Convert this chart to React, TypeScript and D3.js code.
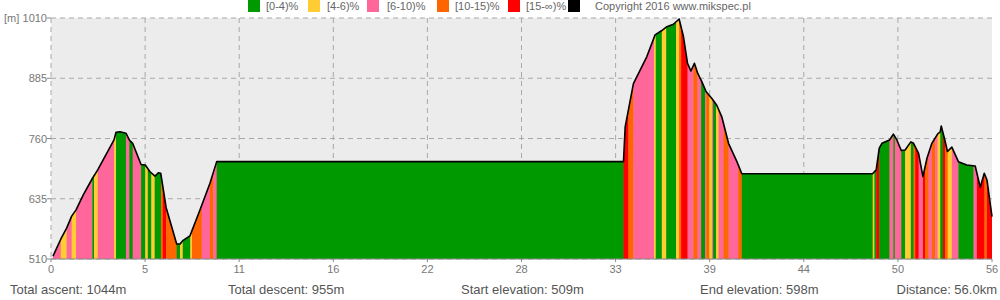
import React from "react";
import * as d3 from "d3";

// Elevation profile (km, m)
const KM = [0.12, 0.58, 0.93, 1.23, 1.49, 1.92, 2.46, 2.78, 3.75, 3.87, 4.11, 4.46, 4.66, 4.86, 5.36, 5.61, 5.89, 6.19, 6.39, 6.53, 6.85, 7.48, 7.68, 7.84, 8.27, 8.87, 9.46, 9.86,
  34.07, 34.17, 34.36, 34.66, 35.06, 35.46, 35.95, 36.35, 36.65, 37.04, 37.38, 37.64, 37.88, 38.08, 38.29, 38.49, 38.73, 38.99, 39.33, 39.62, 39.92, 40.32, 40.82, 41.11,
  48.89, 49.11, 49.29, 49.45, 49.9, 50.13, 50.34, 50.6, 50.83, 51.17, 51.33, 51.63, 51.89, 52.13, 52.42, 52.76, 52.92, 52.98, 53.17, 53.35, 53.61, 54.0, 54.5, 55.0, 55.3, 55.54, 55.7, 56.0];
const ELEV = [516, 551, 574, 599, 612, 643, 677, 695, 757, 773, 774, 771, 757, 750, 706, 705, 691, 682, 689, 688, 617, 541, 541, 548, 558, 612, 667, 712,
  712, 784, 819, 874, 902, 930, 975, 984, 992, 997, 1008, 971, 916, 900, 916, 895, 878, 857, 843, 829, 805, 750, 712, 687,
  687, 695, 740, 750, 757, 769, 757, 735, 736, 753, 750, 729, 681, 719, 750, 769, 774, 786, 760, 733, 742, 712, 705, 703, 659, 688, 674, 598];

// Gradient class segments: start km and class index (0..4)
const SEG_START = [0.12, 0.58, 0.93, 1.23, 1.49, 2.46, 2.56, 2.78, 3.75, 3.87, 4.46, 4.66, 4.86, 5.36, 5.61, 5.76, 5.97, 6.17, 6.55, 6.65, 6.85, 7.48, 7.68, 7.84, 8.29, 8.39, 8.97, 9.46, 9.66, 9.86,
  34.07, 34.36, 34.66, 35.89, 35.99, 36.35, 36.61, 37.2, 37.38, 37.5, 37.88, 38.23, 38.47, 38.69, 38.93, 38.99, 39.18, 39.33, 39.4, 39.58, 39.73, 40.02, 40.32, 40.89, 41.11,
  48.9, 49.0, 49.11, 49.29, 49.9, 50.13, 50.21, 50.6, 50.83, 51.17, 51.33, 51.43, 51.63, 51.89, 52.02, 52.22, 52.42, 52.62, 52.76, 52.92, 53.08, 53.21, 53.36, 53.61, 54.0, 54.9, 55.1, 55.55, 55.7];
const SEG_CLASS = [2, 1, 2, 1, 2, 0, 1, 2, 1, 0, 2, 0, 2, 0, 1, 0, 1, 0, 3, 4, 3, 0, 1, 0, 1, 3, 2, 3, 2, 0,
  4, 3, 2, 1, 0, 1, 0, 1, 3, 4, 2, 3, 2, 0, 2, 3, 1, 2, 0, 1, 2, 3, 2, 3, 0,
  1, 0, 4, 0, 2, 0, 2, 0, 1, 0, 3, 4, 2, 4, 3, 2, 3, 2, 1, 0, 4, 3, 1, 2, 0, 2, 4, 3, 4];
const TOTAL_KM = 56.0;

const CLASS_LABELS = ["[0-4)%", "[4-6)%", "[6-10)%", "[10-15)%", "[15-\u221e)%"];
const CLASS_COLORS = ["#009900", "#ffcc33", "#ff6699", "#ff6600", "#ff0000"];
const COPYRIGHT = "Copyright 2016 www.mikspec.pl";

const X_TICK_VALUES = [0, 5.6, 11.2, 16.8, 22.4, 28, 33.6, 39.2, 44.8, 50.4, 56];
const X_TICK_LABELS = ["0", "5", "11", "16", "22", "28", "33", "39", "44", "50", "56"];
const Y_TICKS = [510, 635, 760, 885, 1010];

const STATS = ["Total ascent: 1044m", "Total descent: 955m", "Start elevation: 509m", "End elevation: 598m", "Distance: 56.0km"];
const STAT_X = [10, 228, 461, 700, 997];

export default function App() {
  const W = 1000, H = 300;
  const left = 51, right = 992, top = 18, bottom = 259;
  const x = d3.scaleLinear().domain([0, TOTAL_KM]).range([left, right]);
  const y = d3.scaleLinear().domain([510, 1010]).range([bottom, top]);
  const pts = KM.map((k, i) => [k, ELEV[i]] as [number, number]);
  const area = d3.area<[number, number]>().x(d => x(d[0])).y0(y(510)).y1(d => y(d[1]))(pts) || "";
  const line = d3.line<[number, number]>().x(d => x(d[0])).y(d => y(d[1]))(pts) || "";
  const font = "'Liberation Sans', Arial, sans-serif";
  const legendSq = [248, 308, 367, 437, 508];
  const legendTx = [266, 327, 387, 455, 526];

  return (
    <svg width={W} height={H} style={{ position: "absolute", left: 0, top: 0 }} fontFamily={font}>
      <defs>
        <clipPath id="areaClip"><path d={area} /></clipPath>
      </defs>
      <rect x={left} y={top} width={right - left} height={bottom - top} fill="#ececec" />
      {Y_TICKS.map(t => (
        <g key={t}>
          <line x1={left} x2={right} y1={y(t)} y2={y(t)} stroke="#a8a8a8" strokeDasharray="5,4" />
          <line x1={left - 4} x2={left} y1={y(t)} y2={y(t)} stroke="#888" />
          <text x={left - 4} y={y(t) + 4} textAnchor="end" fontSize={11} fill="#777">{t}</text>
        </g>
      ))}
      {X_TICK_VALUES.map((t, i) => (
        <g key={i}>
          {i < X_TICK_VALUES.length - 1 && (
            <line x1={x(t)} x2={x(t)} y1={top} y2={bottom} stroke="#a8a8a8" strokeDasharray="5,4" />
          )}
          <line x1={x(t)} x2={x(t)} y1={bottom} y2={bottom + 3} stroke="#888" />
          <text x={x(t)} y={bottom + 14} textAnchor="middle" fontSize={11} fill="#777">{X_TICK_LABELS[i]}</text>
        </g>
      ))}
      <text x={4} y={y(1010) + 4} fontSize={11} fill="#777">[m]</text>
      <g clipPath="url(#areaClip)">
        {SEG_START.map((s, i) => {
          const e = i < SEG_START.length - 1 ? SEG_START[i + 1] : TOTAL_KM;
          return <rect key={i} x={x(s)} y={top} width={x(e) - x(s) + 0.4} height={bottom - top + 1} fill={CLASS_COLORS[SEG_CLASS[i]]} />;
        })}
      </g>
      <path d={line} fill="none" stroke="#000" strokeWidth={1.6} strokeLinejoin="round" />
      <line x1={left} x2={right} y1={bottom} y2={bottom} stroke="#888" />
      {CLASS_LABELS.map((l, i) => (
        <g key={l}>
          <rect x={legendSq[i]} y={0} width={12} height={12} fill={CLASS_COLORS[i]} />
          <text x={legendTx[i]} y={10} fontSize={11} fill="#666">{l}</text>
        </g>
      ))}
      <rect x={568} y={0} width={12} height={12} fill="#000" />
      <text x={595} y={10} fontSize={11} fill="#666">{COPYRIGHT}</text>
      {STATS.map((s, i) => (
        <text key={s} x={STAT_X[i]} y={294} fontSize={13} fill="#555" textAnchor={i === STATS.length - 1 ? "end" : "start"}>{s}</text>
      ))}
    </svg>
  );
}
